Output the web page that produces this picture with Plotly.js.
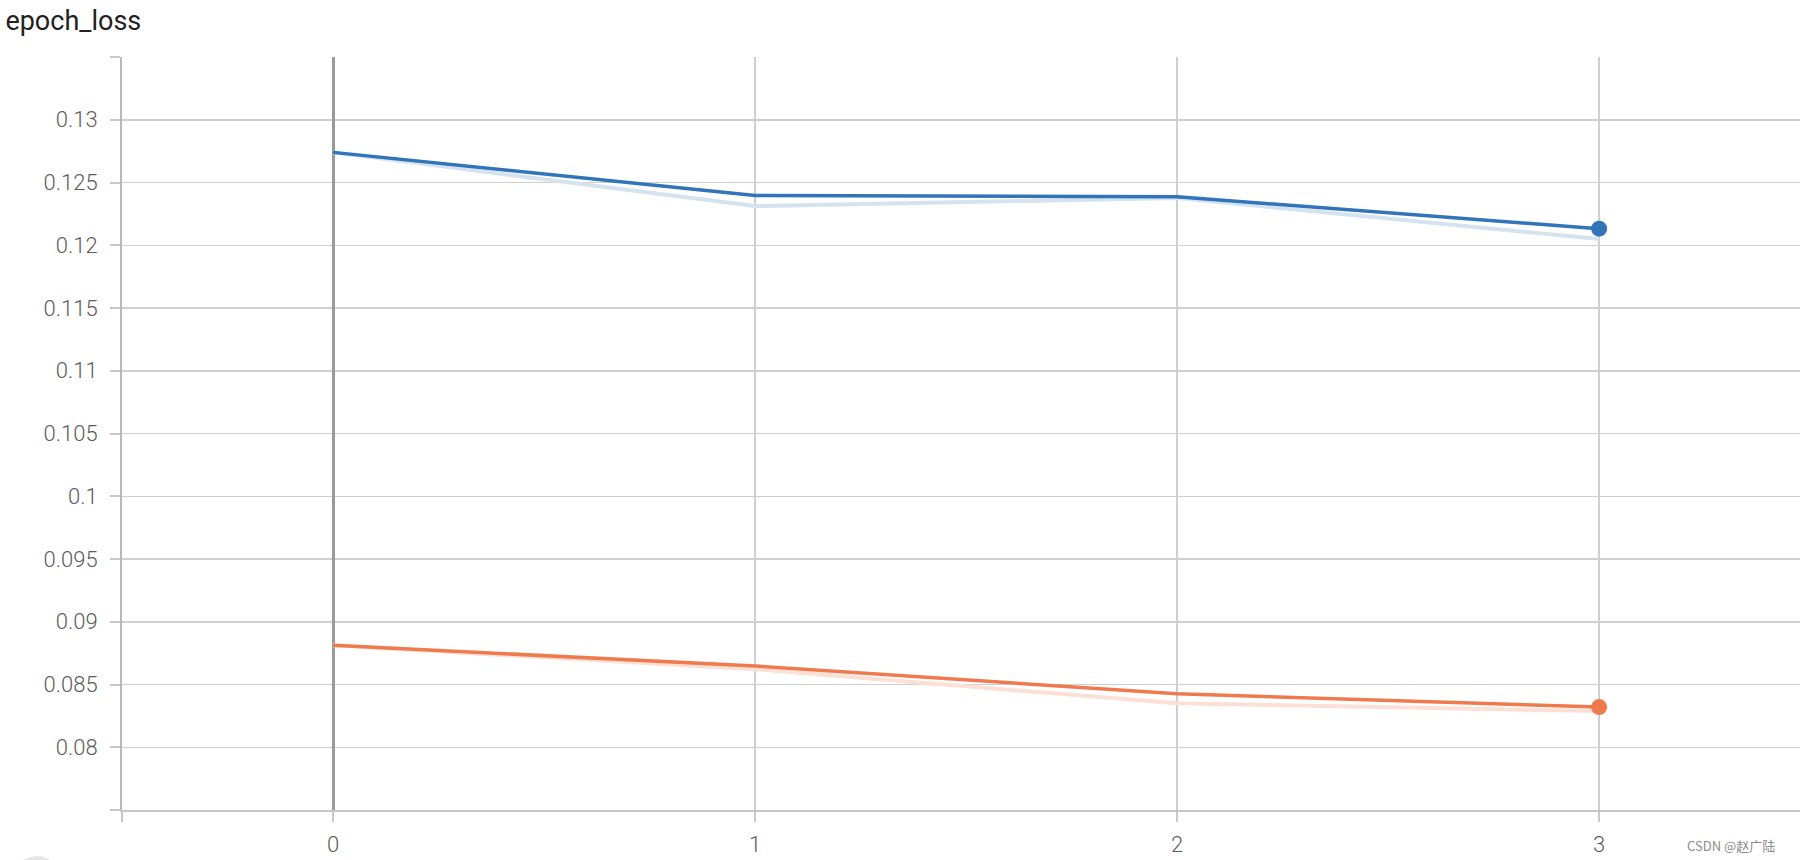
<!DOCTYPE html>
<html>
<head>
<meta charset="utf-8">
<script src="https://cdn.plot.ly/plotly-3.0.1.min.js"></script>
<style>
html,body{margin:0;padding:0;background:#fff;}
#chart{width:1800px;height:860px;}
</style>
</head>
<body>
<div id="chart"></div>
<script>
// Data
const steps = [0, 1, 2, 3];
const trainRaw = [0.1274, 0.12312, 0.12376, 0.12050];
const trainSmoothed = [0.1274, 0.12397, 0.12386, 0.12132];
const valRaw = [0.08812, 0.08621, 0.08351, 0.08288];
const valSmoothed = [0.08812, 0.08648, 0.08426, 0.08320];
const yTickVals = [0.075, 0.08, 0.085, 0.09, 0.095, 0.1, 0.105, 0.11, 0.115, 0.12, 0.125, 0.13, 0.135];
const yTickText = ['', '0.08', '0.085', '0.09', '0.095', '0.1', '0.105', '0.11', '0.115', '0.12', '0.125', '0.13', ''];
const xTickVals = [-0.5, 0, 1, 2, 3];
const xTickText = ['', '0', '1', '2', '3'];

const blue = '#3174b9';
const blueLight = '#d5e3f0';
const orange = '#ef7a4e';
const orangeLight = '#fde0d5';

const last = arr => arr.slice(-1);

const traces = [
  {x: steps, y: trainRaw, mode: 'lines', line: {color: blueLight, width: 4}, hoverinfo: 'skip', showlegend: false},
  {x: steps, y: valRaw, mode: 'lines', line: {color: orangeLight, width: 4}, hoverinfo: 'skip', showlegend: false},
  {x: steps, y: trainSmoothed, mode: 'lines', line: {color: blue, width: 3.5}, showlegend: false},
  {x: steps, y: valSmoothed, mode: 'lines', line: {color: orange, width: 3.5}, showlegend: false},
  {x: last(steps), y: last(trainSmoothed), mode: 'markers', opacity: 1,
   marker: {color: blue, size: 16, opacity: 1, line: {width: 0}}, showlegend: false},
  {x: last(steps), y: last(valSmoothed), mode: 'markers', opacity: 1,
   marker: {color: orange, size: 16, opacity: 1, line: {width: 0}}, showlegend: false}
];

const tickFont = {family: 'Roboto, "Liberation Sans", sans-serif', size: 22, color: '#5c5c5c', weight: 300};

const layout = {
  width: 1800, height: 860,
  paper_bgcolor: '#ffffff', plot_bgcolor: '#ffffff',
  margin: {l: 122, r: 0, t: 57, b: 50},
  title: {
    text: 'epoch_loss', xref: 'container', yref: 'container',
    x: 0.003, xanchor: 'left', y: 1 - 21 / 860, yanchor: 'middle',
    font: {family: 'Roboto, "Liberation Sans", sans-serif', size: 27, color: '#212121'}
  },
  xaxis: {
    range: [-0.5, 3.476], tickmode: 'array', tickvals: xTickVals, ticktext: xTickText,
    showgrid: true, gridcolor: '#cfcfcf', gridwidth: 1.5,
    zeroline: true, zerolinecolor: '#9a9a9a', zerolinewidth: 3,
    showline: true, linecolor: '#c8c8c8', linewidth: 2,
    ticks: 'outside', ticklen: 10, tickcolor: '#c8c8c8', tickwidth: 2,
    tickfont: tickFont, ticklabelstandoff: 4, fixedrange: true
  },
  yaxis: {
    range: [0.075, 0.135], tickmode: 'array', tickvals: yTickVals, ticktext: yTickText,
    showgrid: true, gridcolor: '#cfcfcf', gridwidth: 1.5,
    zeroline: false,
    showline: true, linecolor: '#b8b8b8', linewidth: 2,
    ticks: 'outside', ticklen: 10, tickcolor: '#c8c8c8', tickwidth: 2,
    tickfont: tickFont, ticklabelstandoff: 8, fixedrange: true
  },
  annotations: [{
    text: 'CSDN @赵广陆', xref: 'paper', yref: 'paper',
    x: (1685 - 122) / 1678, xanchor: 'left', y: (810 - 845) / 753, yanchor: 'middle',
    showarrow: false, font: {family: '"Noto Sans CJK SC", sans-serif', size: 13, color: '#8c8c8c'}
  }],
  shapes: [{
    type: 'circle', xref: 'paper', yref: 'paper', layer: 'below',
    x0: (12 - 122) / 1678, x1: (62 - 122) / 1678,
    y0: (810 - 856) / 753, y1: (810 - 906) / 753,
    fillcolor: '#e6e6e6', line: {width: 0}
  }],
  showlegend: false,
  hovermode: false
};

Plotly.newPlot('chart', traces, layout, {displayModeBar: false, staticPlot: true});
</script>
</body>
</html>
